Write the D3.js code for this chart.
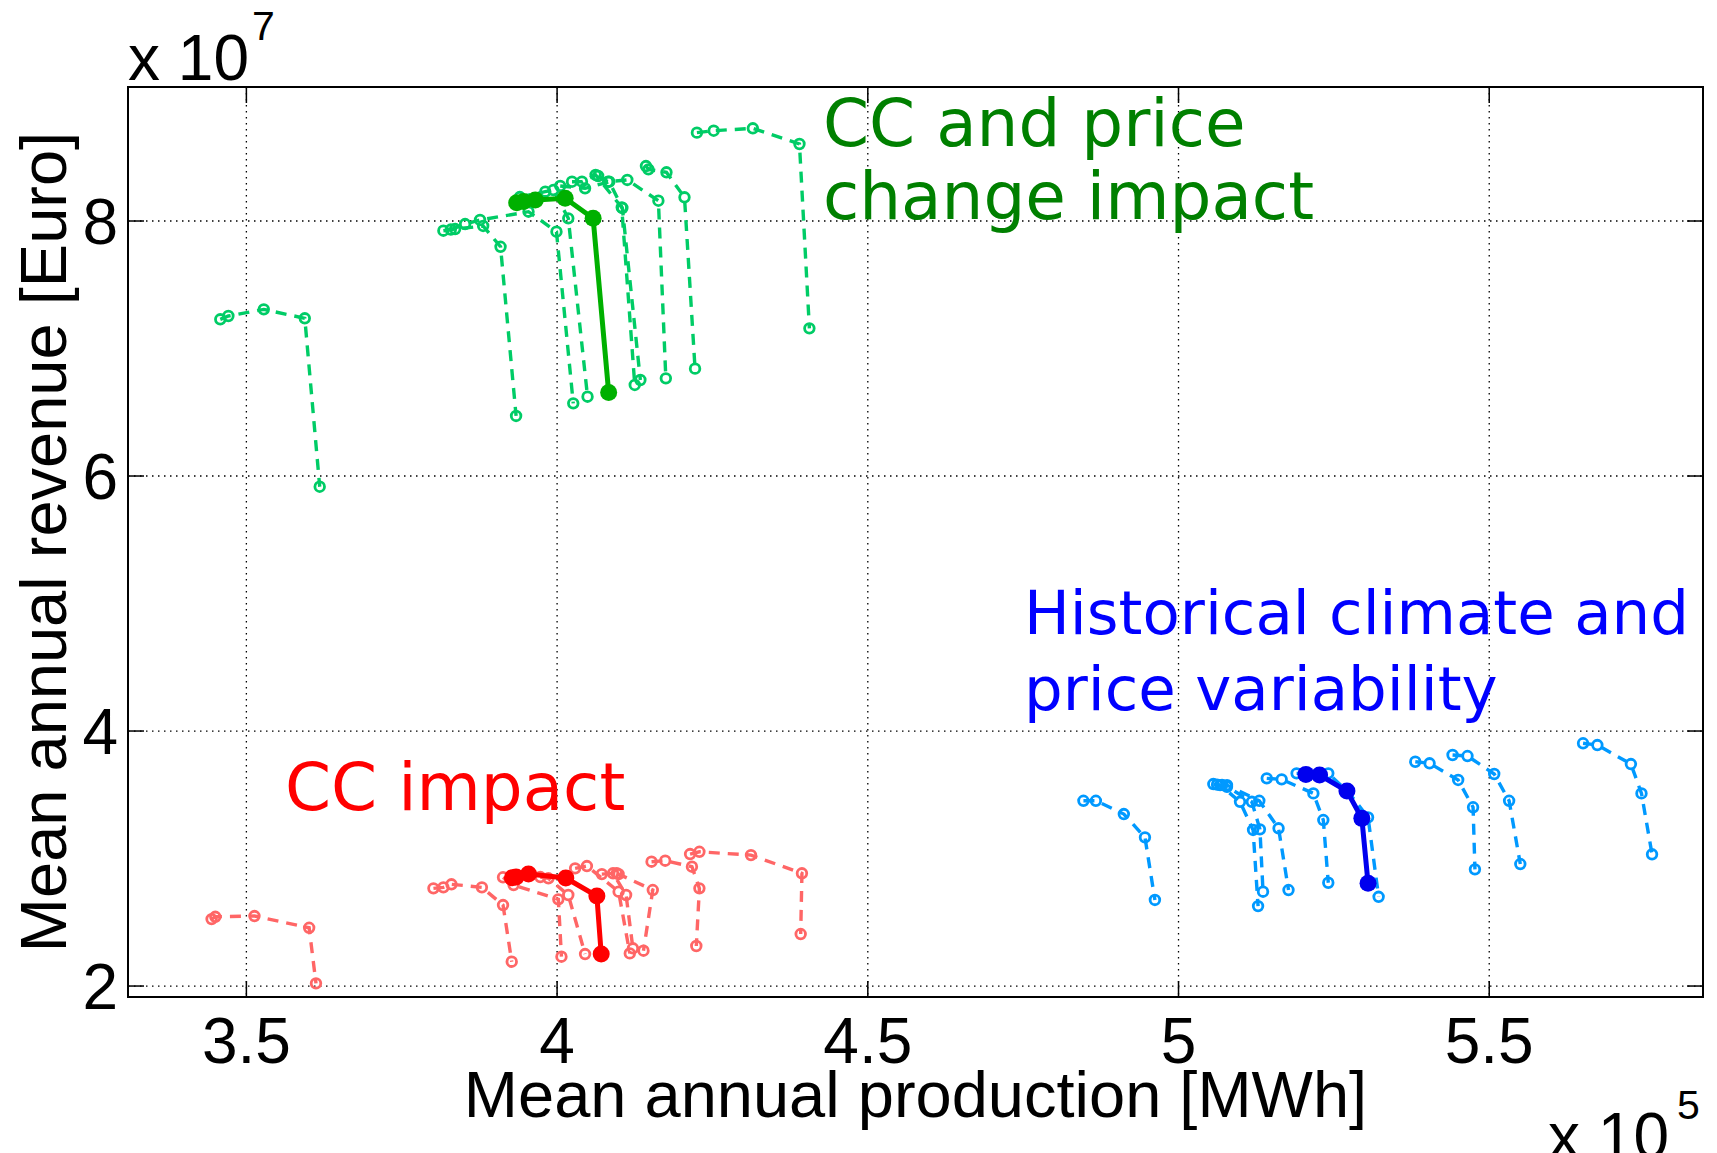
<!DOCTYPE html>
<html>
<head>
<meta charset="utf-8">
<script src="https://cdn.jsdelivr.net/npm/d3@7/dist/d3.min.js"></script>
<style>
  body { margin: 0; background: #fff; }
  text { font-family: "Liberation Sans", Arial, sans-serif; }
  .note { font-family: "DejaVu Sans", sans-serif; }
</style>
</head>
<body>
<div id="chart"></div>
<script>
// production in 1e5 MWh, revenue in 1e7 Euro
const xTicks = [3.5, 4, 4.5, 5, 5.5];
const yTicks = [2, 4, 6, 8];

// CC and price change impact
const greenRuns = [
  [[3.458,7.229],[3.471,7.255],[3.528,7.307],[3.594,7.237],[3.618,5.916]],
  [[3.817,7.924],[3.836,7.937],[3.881,7.961],[3.909,7.798],[3.934,6.471]],
  [[3.829,7.933],[3.852,7.976],[3.876,8.008],[3.954,8.073],[3.999,7.916],[4.026,6.570]],
  [[3.940,8.188],[3.981,8.230],[3.994,8.243],[4.018,8.021],[4.049,6.622]],
  [[4.024,8.308],[4.040,8.308],[4.062,8.361],[4.104,8.107],[4.125,6.714]],
  [[4.005,8.275],[4.045,8.256],[4.084,8.308],[4.105,8.102],[4.134,6.753]],
  [[4.066,8.353],[4.082,8.308],[4.113,8.322],[4.163,8.159],[4.175,6.766]],
  [[4.143,8.431],[4.147,8.405],[4.176,8.382],[4.205,8.186],[4.222,6.842]],
  [[4.225,8.693],[4.252,8.708],[4.315,8.727],[4.390,8.604],[4.406,7.158]]
];
const greenMean = [[3.935,8.144],[3.946,8.153],[3.965,8.165],[4.013,8.178],[4.058,8.021],[4.083,6.655]];

// CC impact
const redRuns = [
  [[3.444,2.525],[3.450,2.543],[3.513,2.549],[3.601,2.457],[3.612,2.021]],
  [[3.801,2.766],[3.817,2.774],[3.830,2.798],[3.879,2.774],[3.913,2.635],[3.927,2.191]],
  [[3.913,2.853],[3.930,2.792],[4.002,2.680],[4.007,2.230]],
  [[3.973,2.855],[3.986,2.845],[4.018,2.714],[4.045,2.251]],
  [[4.029,2.923],[4.048,2.941],[4.099,2.740],[4.117,2.256]],
  [[4.072,2.878],[4.090,2.884],[4.111,2.714],[4.122,2.296]],
  [[4.096,2.884],[4.099,2.878],[4.154,2.753],[4.139,2.277]],
  [[4.152,2.975],[4.174,2.983],[4.217,2.936],[4.229,2.766],[4.224,2.314]],
  [[4.214,3.035],[4.229,3.053],[4.312,3.027],[4.394,2.884],[4.392,2.408]]
];
const redMean = [[3.928,2.849],[3.934,2.855],[3.954,2.878],[4.014,2.847],[4.064,2.706],[4.071,2.251]];

// historical climate and price variability
const blueRuns = [
  [[4.847,3.453],[4.867,3.453],[4.912,3.349],[4.946,3.166],[4.962,2.675]],
  [[5.056,3.584],[5.067,3.576],[5.099,3.445],[5.120,3.224],[5.128,2.627]],
  [[5.062,3.580],[5.078,3.563],[5.118,3.445],[5.131,3.229],[5.136,2.740]],
  [[5.070,3.578],[5.078,3.576],[5.130,3.453],[5.161,3.237],[5.177,2.753]],
  [[5.142,3.629],[5.166,3.621],[5.217,3.511],[5.233,3.302],[5.241,2.810]],
  [[5.190,3.668],[5.241,3.668],[5.273,3.522],[5.305,3.323],[5.322,2.700]],
  [[5.381,3.759],[5.404,3.747],[5.450,3.616],[5.474,3.402],[5.477,2.915]],
  [[5.441,3.812],[5.465,3.804],[5.508,3.663],[5.532,3.453],[5.550,2.957]],
  [[5.651,3.904],[5.674,3.890],[5.728,3.741],[5.745,3.511],[5.762,3.033]]
];
const blueMean = [[5.205,3.660],[5.227,3.655],[5.271,3.529],[5.295,3.315],[5.305,2.806]];

let margin = {top: 87, left: 128, right: 14, bottom: 156},
    width = 1717 - margin.left - margin.right,
    height = 1153 - margin.top - margin.bottom;

let svg = d3.select('#chart')
    .append('svg')
    .attr('width', 1717)
    .attr('height', 1153);

let g = svg.append('g')
    .attr('transform', 'translate(' + margin.left + ',' + margin.top + ')');

let x = d3.scaleLinear().domain([3.3095, 5.844]).range([0, width]);
let y = d3.scaleLinear().domain([1.914, 9.051]).range([height, 0]);

// dotted grid
g.selectAll('.gx').data(xTicks).enter().append('line')
    .attr('x1', d => x(d)).attr('x2', d => x(d))
    .attr('y1', 0).attr('y2', height)
    .attr('stroke', '#000').attr('stroke-width', 1.3)
    .attr('stroke-dasharray', '1.5,4.5');
g.selectAll('.gy').data(yTicks).enter().append('line')
    .attr('x1', 0).attr('x2', width)
    .attr('y1', d => y(d)).attr('y2', d => y(d))
    .attr('stroke', '#000').attr('stroke-width', 1.3)
    .attr('stroke-dasharray', '1.5,4.5');

let line = d3.line().x(d => x(d[0])).y(d => y(d[1]));

function drawRuns(runs, color) {
  runs.forEach(function(run) {
    g.append('path')
      .attr('d', line(run))
      .attr('fill', 'none')
      .attr('stroke', color)
      .attr('stroke-width', 3.4)
      .attr('stroke-dasharray', '11,8');
    g.selectAll(null).data(run).enter().append('circle')
      .attr('cx', d => x(d[0])).attr('cy', d => y(d[1]))
      .attr('r', 4.8)
      .attr('fill', 'none')
      .attr('stroke', color)
      .attr('stroke-width', 2.8);
  });
}

function drawMean(run, color) {
  g.append('path')
    .attr('d', line(run))
    .attr('fill', 'none')
    .attr('stroke', color)
    .attr('stroke-width', 5);
  g.selectAll(null).data(run).enter().append('circle')
    .attr('cx', d => x(d[0])).attr('cy', d => y(d[1]))
    .attr('r', 8.5)
    .attr('fill', color);
}

drawRuns(greenRuns, '#00cc66');
drawRuns(redRuns, '#ff6666');
drawRuns(blueRuns, '#0099ff');
drawMean(greenMean, '#00b000');
drawMean(redMean, '#ff0000');
drawMean(blueMean, '#0000ee');

// box and inward ticks
g.append('rect')
    .attr('width', width).attr('height', height)
    .attr('fill', 'none').attr('stroke', '#000').attr('stroke-width', 2);

let tl = 16;
xTicks.forEach(function(t) {
  g.append('line').attr('x1', x(t)).attr('x2', x(t)).attr('y1', height).attr('y2', height - tl)
    .attr('stroke', '#000').attr('stroke-width', 1.5);
  g.append('line').attr('x1', x(t)).attr('x2', x(t)).attr('y1', 0).attr('y2', tl)
    .attr('stroke', '#000').attr('stroke-width', 1.5);
});
yTicks.forEach(function(t) {
  g.append('line').attr('x1', 0).attr('x2', tl).attr('y1', y(t)).attr('y2', y(t))
    .attr('stroke', '#000').attr('stroke-width', 1.5);
  g.append('line').attr('x1', width).attr('x2', width - tl).attr('y1', y(t)).attr('y2', y(t))
    .attr('stroke', '#000').attr('stroke-width', 1.5);
});

// tick labels
g.selectAll('.xl').data(xTicks).enter().append('text')
    .attr('x', d => x(d)).attr('y', height + 66)
    .attr('text-anchor', 'middle')
    .attr('font-size', '64px')
    .text(d => d);
g.selectAll('.yl').data(yTicks).enter().append('text')
    .attr('x', -10).attr('y', d => y(d))
    .attr('dy', '0.36em')
    .attr('text-anchor', 'end')
    .attr('font-size', '64px')
    .text(d => d);

// exponents
svg.append('text').attr('x', 128).attr('y', 80).attr('font-size', '64px').text('x 10');
svg.append('text').attr('x', 252).attr('y', 40).attr('font-size', '41px').text('7');
svg.append('text').attr('x', 1548).attr('y', 1158).attr('font-size', '64px').text('x 10');
svg.append('text').attr('x', 1677).attr('y', 1119).attr('font-size', '41px').text('5');

// axis labels
svg.append('text')
    .attr('x', margin.left + width / 2).attr('y', 1117)
    .attr('text-anchor', 'middle')
    .attr('font-size', '65px')
    .text('Mean annual production [MWh]');
svg.append('text')
    .attr('transform', 'translate(66,' + (margin.top + height / 2) + ') rotate(-90)')
    .attr('text-anchor', 'middle')
    .attr('font-size', '65px')
    .text('Mean annual revenue [Euro]');

// annotations
svg.append('text').attr('class', 'note').attr('x', 823).attr('y', 146)
    .attr('font-size', '66px').attr('fill', '#008000').text('CC and price');
svg.append('text').attr('class', 'note').attr('x', 823).attr('y', 219)
    .attr('font-size', '66px').attr('fill', '#008000').text('change impact');
svg.append('text').attr('class', 'note').attr('x', 1024).attr('y', 634)
    .attr('font-size', '61px').attr('fill', '#0000ff').text('Historical climate and');
svg.append('text').attr('class', 'note').attr('x', 1024).attr('y', 710)
    .attr('font-size', '61px').attr('fill', '#0000ff').text('price variability');
svg.append('text').attr('class', 'note').attr('x', 285).attr('y', 810)
    .attr('font-size', '66px').attr('fill', '#ff0000').text('CC impact');
</script>
</body>
</html>
